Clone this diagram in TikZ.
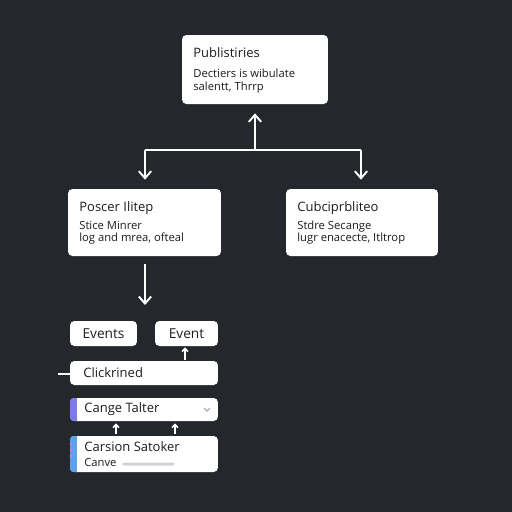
\documentclass[tikz,border=0pt]{standalone}
\usepackage{fontspec}
\setmainfont{Open Sans}
\usetikzlibrary{arrows.meta}

\definecolor{bgdark}{HTML}{24272C}
\definecolor{inkdark}{HTML}{1C1D20}
\definecolor{barpurple}{HTML}{7C7CE8}
\definecolor{barblue}{HTML}{5AA2EE}
\definecolor{dotpink}{HTML}{E070C8}

\tikzset{
  card/.style={fill=white, rounded corners=2.5pt, inner sep=0pt},
  cardtitle/.style={anchor=base west, inner sep=0pt, text=inkdark, font=\fontsize{7.4}{8}\selectfont},
  cardbody/.style={anchor=base west, inner sep=0pt, text=inkdark, font=\fontsize{6.4}{7}\selectfont},
  chip/.style={card, text=inkdark, font=\fontsize{7.8}{8}\selectfont},
  wire/.style={draw=white, line width=1.1pt},
  flow/.style={wire, -{Straight Barb[length=4pt,width=7pt]}},
  tick/.style={draw=white, line width=0.9pt, -{Straight Barb[length=1.8pt,width=3.4pt]}},
}

\begin{document}
\begin{tikzpicture}[x=0.02cm, y=-0.02cm]
% background
\fill[bgdark] (0,0) rectangle (512,512);
\useasboundingbox (0,0) rectangle (512,512);

% Top card
\node[card, minimum width=2.92cm, minimum height=1.38cm] (pub) at (255,69.5) {};
\node[cardtitle] (pubtitle) at (193,57) {Publistiries};
\node[cardbody] (publine1) at (193,77) {Dectiers is wibulate};
\node[cardbody] (publine2) at (193,90) {salentt, Thrrp};

% Left card
\node[card, minimum width=3.06cm, minimum height=1.34cm] (poscer) at (144.5,222.5) {};
\node[cardtitle] (poscertitle) at (79,211) {Poscer Ilitep};
\node[cardbody] (poscerline1) at (79,229.5) {Stice Minrer};
\node[cardbody] (poscerline2) at (79,241.5) {log and mrea, ofteal};

% Right card
\node[card, minimum width=3.04cm, minimum height=1.34cm] (cubci) at (362,222.5) {};
\node[cardtitle] (cubcititle) at (297,211) {Cubciprbliteo};
\node[cardbody] (cubciline1) at (297,229.5) {Stdre Secange};
\node[cardbody] (cubciline2) at (297,241.5) {lugr enacecte, Itltrop};

% Connectors between cards
\coordinate (split) at (255,150);
\coordinate (splitl) at (145,150);
\coordinate (splitr) at (361,150);
\draw[flow, shorten >=0.18cm] (split) -- (pub.south);
\draw[wire] (splitl) -- (splitr);
\draw[flow, shorten >=0.18cm] (splitl) -- (splitl |- poscer.north);
\draw[flow, shorten >=0.18cm] (splitr) -- (splitr |- cubci.north);

% Drop arrow
\coordinate (drop) at (145,305);
\draw[flow, shorten <=0.16cm] (poscer.south -| drop) -- (drop);

% Event chips
\node[chip, minimum width=1.34cm, minimum height=0.5cm] (events) at (103.5,333.5) {Events};
\node[chip, minimum width=1.26cm, minimum height=0.5cm] (event) at (186.5,333.5) {Event};

% Clickrined row
\node[card, minimum width=2.96cm, minimum height=0.48cm] (click) at (144,373) {};
\node[cardtitle, anchor=west] (clicktext) at (83,373) {Clickrined};
\coordinate (clickin) at (58,374);
\draw[white, line width=1pt] (clickin) -- (clickin -| click.west);
\draw[tick, shorten <=0.02cm, shorten >=0.02cm] ([xshift=0.82cm]click.north) -- ([xshift=0.82cm]click.north |- event.south);

% Cange Talter row
\node[card, minimum width=2.96cm, minimum height=0.46cm] (cange) at (144,409.5) {};
\begin{scope}
  \clip[rounded corners=2.5pt] (cange.north west) rectangle (cange.south east);
  \fill[barpurple] (cange.north west) rectangle ([xshift=0.14cm]cange.south west);
\end{scope}
\node[cardtitle, anchor=west] (cangetext) at (84,409.5) {Cange Talter};
\draw[gray!70, line width=0.6pt] (204,408) -- (207,411) -- (210,408);

% Carsion Satoker row
\node[card, minimum width=2.96cm, minimum height=0.72cm] (carsion) at (144,454) {};
\begin{scope}
  \clip[rounded corners=2.5pt] (carsion.north west) rectangle (carsion.south east);
  \fill[barblue] (carsion.north west) rectangle ([xshift=0.14cm]carsion.south west);
  \foreach \dy in {444,450,456}
    \fill[dotpink] (71,\dy) circle (1.6);
\end{scope}
\node[cardtitle, anchor=west] (carsiontext) at (84,447) {Carsion Satoker};
\node[cardbody, anchor=west] (canvetext) at (84,462) {Canve};
\fill[gray!35, rounded corners=1pt] (122,462.5) rectangle (175,465.5);

\draw[tick, shorten <=0.04cm, shorten >=0.04cm] ([xshift=-0.56cm]carsion.north) -- ([xshift=-0.56cm]cange.south);
\draw[tick, shorten <=0.04cm, shorten >=0.04cm] ([xshift=0.62cm]carsion.north) -- ([xshift=0.62cm]cange.south);
\end{tikzpicture}
\end{document}
